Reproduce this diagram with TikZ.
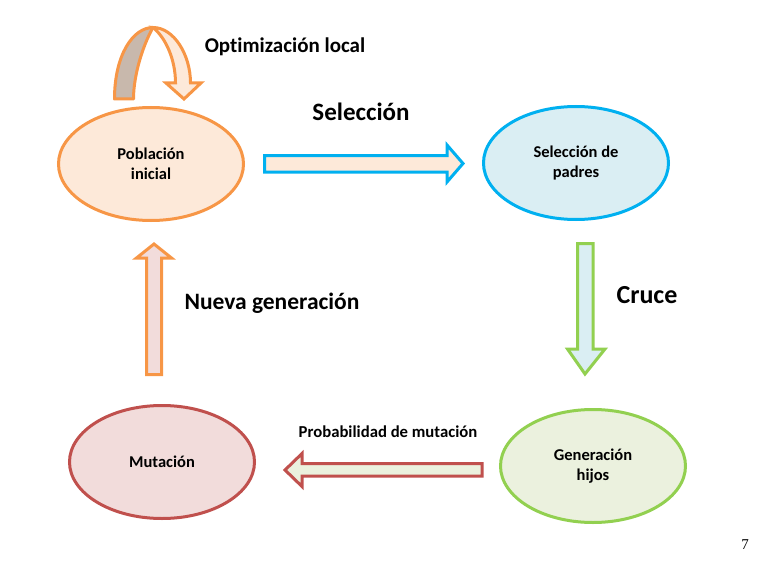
\documentclass[tikz,border=0pt]{standalone}
\usepackage{fontspec}
\setmainfont[Ligatures=NoCommon]{Carlito}
\usetikzlibrary{shapes.geometric}
\definecolor{cOrange}{HTML}{F79646}
\definecolor{fOrange}{HTML}{FDE9D9}
\definecolor{cBlue}{HTML}{00B0F0}
\definecolor{fBlue}{HTML}{DAEEF3}
\definecolor{cGreen}{HTML}{92D050}
\definecolor{fGreen}{HTML}{EBF1DE}
\definecolor{cRed}{HTML}{C0504D}
\definecolor{fRed}{HTML}{F2DCDB}
\definecolor{fGray}{HTML}{C8B8AC}
\tikzset{
  ell/.style={ellipse, line width=3pt, minimum width=185pt, minimum height=113pt, align=center,
    font=\fontsize{16.5}{20.5}\selectfont\bfseries},
  blockarrow/.style={line width=3pt, line join=miter},
  lbl/.style={font=\fontsize{21}{24}\selectfont\bfseries},
  biglbl/.style={font=\fontsize{25}{28}\selectfont\bfseries},
  midlbl/.style={font=\fontsize{26}{30}\selectfont\bfseries},
  smalllbl/.style={font=\fontsize{16.7}{20}\selectfont\bfseries},
}
\begin{document}
\begin{tikzpicture}[x=1pt,y=-1pt]
\useasboundingbox (0,0) rectangle (760,567);
% ellipses
\node[ell, draw=cOrange, fill=fOrange] (pob) at (151,164) {Población\\inicial};
\node[ell, draw=cBlue, fill=fBlue] (sel) at (576,163) {Selección de\\padres};
\node[ell, draw=cGreen, fill=fGreen] (gen) at (593,466) {Generación\\hijos};
\node[ell, draw=cRed, fill=fRed] (mut) at (162,462) {Mutación};
% curved arrow (optimizacion local)
\draw[blockarrow, draw=cOrange, fill=fGray, line join=round]
  (114.5,99) .. controls (114.5,55) and (133,27.5) .. (153,27.5)
  .. controls (143,45) and (133.5,75) .. (133.5,99) -- cycle;
\draw[blockarrow, draw=cOrange, fill=fOrange]
  (153,27.5) .. controls (174,27.5) and (190.5,55) .. (190.5,83)
  -- (201,83) -- (184,99) -- (166,83) -- (175.5,83)
  .. controls (175.5,60) and (166,38) .. (153,27.5) -- cycle;
% block arrows
\draw[blockarrow, draw=cBlue, fill=fOrange]
  (264.5,155.5) -- (447,155.5) -- (447,145) -- (463,163.5) -- (447,182) -- (447,172) -- (264.5,172) -- cycle;
\draw[blockarrow, draw=cGreen, fill=fBlue]
  (577.5,243.5) -- (593,243.5) -- (593,349) -- (605,349) -- (585,374) -- (567.5,349) -- (577.5,349) -- cycle;
\draw[blockarrow, draw=cRed, fill=fGreen]
  (482,463.5) -- (302,463.5) -- (302,453.5) -- (285,470) -- (302,486.5) -- (302,476) -- (482,476) -- cycle;
\draw[blockarrow, draw=cOrange, fill=fRed]
  (146.5,374.5) -- (161.5,374.5) -- (161.5,258) -- (171.5,258) -- (154,244) -- (136.5,258) -- (146.5,258) -- cycle;
% labels
\node[lbl] (optl) at (285,47) {Optimización local};
\node[biglbl] (sell) at (361,112) {Selección};
\node[midlbl] (crul) at (647,295) {Cruce};
\node[lbl, font=\fontsize{23.5}{26}\selectfont\bfseries] (nuel) at (272,303) {Nueva generación};
\node[smalllbl] (prol) at (388,432) {Probabilidad de mutación};
\node[font=\fontsize{15}{18}\selectfont\rmfamily] (pnum) at (745,545) {\fontspec{Liberation Serif}7};
\end{tikzpicture}
\end{document}
